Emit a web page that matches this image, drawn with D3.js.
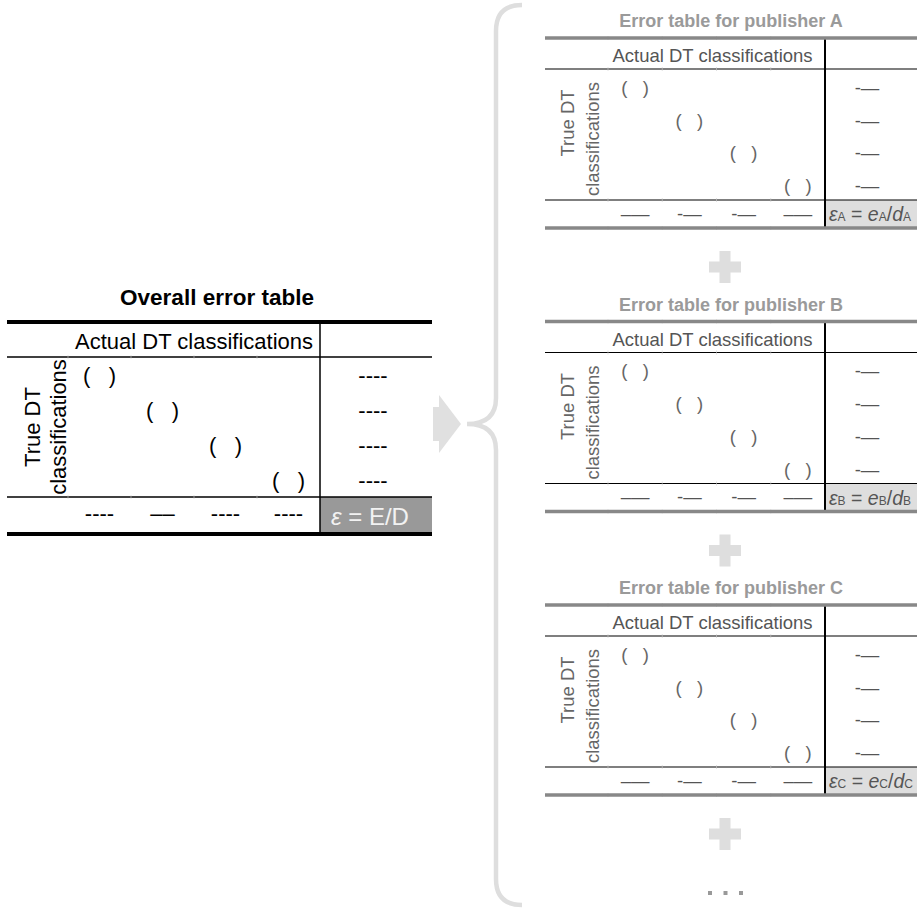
<!DOCTYPE html>
<html><head><meta charset="utf-8">
<script src="https://cdn.jsdelivr.net/npm/d3@7"></script>
<style>
html,body{margin:0;padding:0;background:#fff;}
svg{display:block;font-family:"Liberation Sans",Arial,sans-serif;}
</style>
</head><body>
<svg id="c" width="917" height="908"></svg>
<script>
// ---------- data ----------
const actualClasses = ["DT1", "DT2", "DT3", "DT4"];
const trueClasses = ["DT1", "DT2", "DT3", "DT4"];
const publishers = ["A", "B", "C"];
const overallTitle = "Overall error table";
const publisherTitles = publishers.map(p => "Error table for publisher " + p);
const headerLabel = "Actual DT classifications";
const rowLabelLines = ["True DT", "classifications"];
const diagCellText = "(\u00a0\u00a0\u00a0)";
const overallRowTotals = ["----", "----", "----", "----"];
const overallColTotals = ["----", "\u2013\u2013", "----", "----"];
const pubRowTotals = ["-\u2014", "-\u2014", "-\u2014", "-\u2014"];
const pubColTotals = ["\u2013\u2014", "-\u2014", "-\u2014", "\u2013\u2014"];
const ellipsisDots = [0, 1, 2];

// ---------- drawing ----------
const svg = d3.select("#c");
svg.append("rect").attr("width", 917).attr("height", 908).attr("fill", "#fff");

function drawTable(g, o) {
  const xs = d3.scaleBand().domain(actualClasses).range([o.xLab, o.xRight]);
  const ys = d3.scaleBand().domain(trueClasses).range([o.yHead, o.yBody]);

  // gray formula cell
  g.append("rect").attr("x", o.xRight).attr("y", o.yBody)
    .attr("width", o.x1 - o.xRight).attr("height", o.yBottom - o.yBody)
    .attr("fill", o.cellFill);

  // title
  g.append("text").attr("x", o.titleX).attr("y", o.yTop - o.titleGap)
    .attr("text-anchor", "middle").attr("font-weight", "bold")
    .attr("font-size", o.titleSize).attr("fill", o.titleColor).text(o.title);

  // thin inner lines
  [o.yHead, o.yBody].forEach(y => {
    g.append("line").attr("x1", o.x0).attr("x2", o.x1).attr("y1", y).attr("y2", y)
      .attr("stroke", "#000").attr("stroke-width", o.thin);
  });
  // tiny column ticks
  actualClasses.forEach(c => {
    [o.yTop, o.yHead, o.yBody, o.yBottom].forEach(y => {
      g.append("line").attr("x1", xs(c)).attr("x2", xs(c)).attr("y1", y - 2).attr("y2", y + 2)
        .attr("stroke", "#ccc").attr("stroke-width", 0.6);
    });
  });
  // vertical separator
  g.append("line").attr("x1", o.xRight).attr("x2", o.xRight)
    .attr("y1", o.yTop).attr("y2", o.yBottom)
    .attr("stroke", "#000").attr("stroke-width", o.vthick);
  // thick top / bottom rules
  [o.yTop, o.yBottom].forEach(y => {
    g.append("line").attr("x1", o.x0).attr("x2", o.x1).attr("y1", y).attr("y2", y)
      .attr("stroke", o.ruleColor).attr("stroke-width", o.thick);
  });

  // header label
  g.append("text").attr("x", (o.xLab + o.xRight) / 2 + o.headDx).attr("y", o.yHead - o.headBase)
    .attr("text-anchor", "middle").attr("font-size", o.fs).attr("fill", o.textColor)
    .text(headerLabel);

  // row label (rotated, two lines)
  rowLabelLines.forEach((t, i) => {
    g.append("text")
      .attr("transform", `translate(${o.rowLabX[i]},${o.rowLabY[i]}) rotate(-90)`)
      .attr("text-anchor", "middle").attr("dominant-baseline", "central")
      .attr("font-size", o.fs).attr("fill", o.labelColor).text(t);
  });

  // diagonal cells
  trueClasses.forEach((r, i) => {
    g.append("text").attr("x", xs(actualClasses[i]) + xs.bandwidth() / 2)
      .attr("y", ys(r) + ys.bandwidth() / 2 + o.cellDy)
      .attr("text-anchor", "middle").attr("dominant-baseline", "central")
      .attr("font-size", o.fs).attr("fill", o.parenColor).text(diagCellText);
  });

  // row totals
  trueClasses.forEach((r, i) => {
    g.append("text").attr("x", (o.xRight + o.x1) / 2 + o.totDx)
      .attr("y", ys(r) + ys.bandwidth() / 2 + o.cellDy)
      .attr("text-anchor", "middle").attr("dominant-baseline", "central")
      .attr("font-size", o.fs).attr("fill", o.dashColor).text(o.rowTotals[i]);
  });
  // column totals
  actualClasses.forEach((c, i) => {
    g.append("text").attr("x", xs(c) + xs.bandwidth() / 2)
      .attr("y", (o.yBody + o.yBottom) / 2 + o.totDy)
      .attr("text-anchor", "middle").attr("dominant-baseline", "central")
      .attr("font-size", o.fs).attr("fill", o.dashColor).text(o.colTotals[i]);
  });

  // formula
  const f = g.append("text").attr("x", o.formX).attr("y", (o.yBody + o.yBottom) / 2 + o.formDy)
    .attr("dominant-baseline", "central").attr("font-size", o.formSize).attr("fill", o.formColor);
  o.formula(f);
}

// overall table
drawTable(svg.append("g"), {
  x0: 7, xLab: 68, xRight: 320, x1: 432,
  yTop: 322, yHead: 357, yBody: 497, yBottom: 534,
  title: overallTitle, titleX: 217, titleGap: 17, titleSize: 22.5, titleColor: "#000",
  thin: 1.3, thick: 4, vthick: 1.5, ruleColor: "#000",
  fs: 22, headDx: 0, headBase: 8,
  textColor: "#000", labelColor: "#000", parenColor: "#000", dashColor: "#000",
  rowLabX: [32, 58], rowLabY: [427, 427],
  cellDy: 1, totDx: -3, totDy: -2,
  rowTotals: overallRowTotals, colTotals: overallColTotals,
  cellFill: "#999", formX: 331, formDy: 0, formSize: 24, formColor: "#f2f2f2",
  formula: t => {
    t.append("tspan").attr("font-style", "italic").text("\u03b5");
    t.append("tspan").text(" = E/D");
  }
});

// publisher tables
const pubTop = d3.scaleLinear().domain([0, publishers.length - 1]).range([38, 605]);
publishers.forEach((p, k) => {
  const y0 = pubTop(k);
  drawTable(svg.append("g"), {
    x0: 545, xLab: 608, xRight: 825, x1: 917,
    yTop: y0, yHead: y0 + 31, yBody: y0 + 162, yBottom: y0 + 190,
    title: publisherTitles[k], titleX: 731, titleGap: 11, titleSize: 18, titleColor: "#9a9a9a",
    thin: 1.2, thick: 3.3, vthick: 2, ruleColor: "#888",
    fs: 18.5, headDx: -4, headBase: 7,
    textColor: "#555", labelColor: "#666", parenColor: "#666", dashColor: "#555",
    rowLabX: [567, 592], rowLabY: [y0 + 85, y0 + 101],
    cellDy: 2, totDx: -4, totDy: -1,
    rowTotals: pubRowTotals, colTotals: pubColTotals,
    cellFill: "#dedede", formX: 829, formDy: 0, formSize: 19.5, formColor: "#555",
    formula: t => {
      t.append("tspan").attr("font-style", "italic").text("\u03b5");
      t.append("tspan").attr("font-size", 12).attr("dy", 3).text(p);
      t.append("tspan").attr("dy", -3).text(" = ");
      t.append("tspan").attr("font-style", "italic").text("e");
      t.append("tspan").attr("font-size", 12).attr("dy", 3).text(p);
      t.append("tspan").attr("dy", -3).text("/");
      t.append("tspan").attr("font-style", "italic").text("d");
      t.append("tspan").attr("font-size", 12).attr("dy", 3).text(p);
    }
  });
  // plus sign below each table
  const cy = y0 + 190 + 39, cx = 725, arm = 16, w = 11;
  svg.append("rect").attr("x", cx - arm).attr("y", cy - w / 2).attr("width", arm * 2).attr("height", w).attr("fill", "#dedede");
  svg.append("rect").attr("x", cx - w / 2).attr("y", cy - arm).attr("width", w).attr("height", arm * 2).attr("fill", "#dedede");
});

// ellipsis
svg.selectAll("rect.dot").data(ellipsisDots).join("rect").attr("class", "dot")
  .attr("x", d => 708 + d * 15.5).attr("y", 891).attr("width", 4).attr("height", 4).attr("fill", "#999");

// arrow
svg.append("path")
  .attr("d", "M433,407 L439,407 L439,395 L461,424 L439,453 L439,441 L433,441 Z")
  .attr("fill", "#e0e0e0");

// brace
const bp = d3.path();
bp.moveTo(522, 5);
bp.quadraticCurveTo(496, 5, 496, 31);
bp.lineTo(496, 398);
bp.quadraticCurveTo(496, 424, 467, 424);
bp.quadraticCurveTo(496, 424, 496, 450);
bp.lineTo(496, 879);
bp.quadraticCurveTo(496, 905, 522, 905);
svg.append("path").attr("d", bp.toString()).attr("fill", "none")
  .attr("stroke", "#dedede").attr("stroke-width", 4.5);
</script>
</body></html>
